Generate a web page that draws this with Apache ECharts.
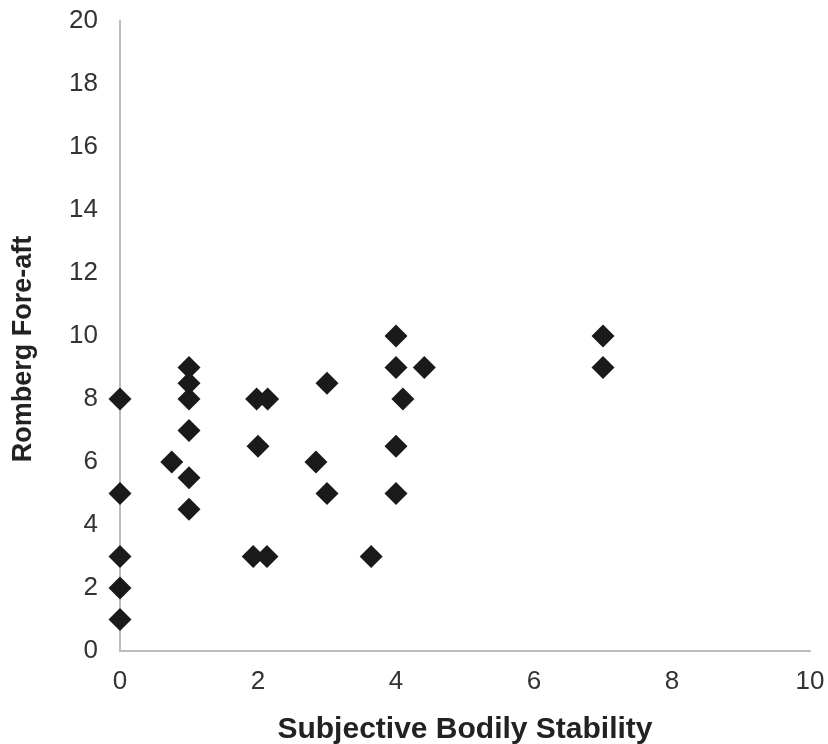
<!DOCTYPE html>
<html><head><meta charset="utf-8">
<script src="https://cdn.jsdelivr.net/npm/echarts@6/dist/echarts.min.js"></script>
<style>html,body{margin:0;padding:0;background:#fff}#c{width:828px;height:744px}</style>
</head><body><div id="c"></div>
<script>
const xValues = [0,0,0,0,0, 0.75, 1,1,1,1,1,1, 1.93,2.13, 1.98,2.14, 2, 2.84, 3,3, 3.64, 4,4,4,4, 4.1, 4.41, 7,7];
const yValues = [8,5,3,2,1, 6, 9,8.5,8,7,5.5,4.5, 3,3, 8,8, 6.5, 6, 8.5,5, 3, 10,9,6.5,5, 8, 9, 10,9];
const xTitle = 'Subjective Bodily Stability';
const yTitle = 'Romberg Fore-aft';
const data = xValues.map((x,i)=>[x,yValues[i]]);
const chart = echarts.init(document.getElementById('c'));
const ff = 'Liberation Sans, Arial, Helvetica, sans-serif';
const lab = {color:'#333', fontSize:26, fontFamily:ff};
chart.setOption({
  animation:false,
  grid:{left:120, right:18, top:21, bottom:93, containLabel:false, outerBoundsMode:'none'},
  xAxis:{type:'value', min:0, max:10, interval:2,
    axisLine:{lineStyle:{color:'#bbb', width:2}}, axisTick:{show:false}, splitLine:{show:false},
    axisLabel:Object.assign({margin:18}, lab),
    name:xTitle, nameLocation:'middle', nameGap:64,
    nameTextStyle:{color:'#222', fontSize:30, fontWeight:'bold', fontFamily:ff}},
  yAxis:{type:'value', min:0, max:20, interval:2,
    axisLine:{show:true, lineStyle:{color:'#bbb', width:2}}, axisTick:{show:false}, splitLine:{show:false},
    axisLabel:Object.assign({margin:22}, lab),
    name:yTitle, nameLocation:'middle', nameGap:83, nameRotate:90,
    nameTextStyle:{color:'#222', fontSize:27, fontWeight:'bold', fontFamily:ff, padding:[0,26,0,0]}},
  series:[{type:'scatter', data:data, symbol:'diamond', symbolSize:23, itemStyle:{color:'#1a1a1a', opacity:1}}]
});
</script></body></html>
